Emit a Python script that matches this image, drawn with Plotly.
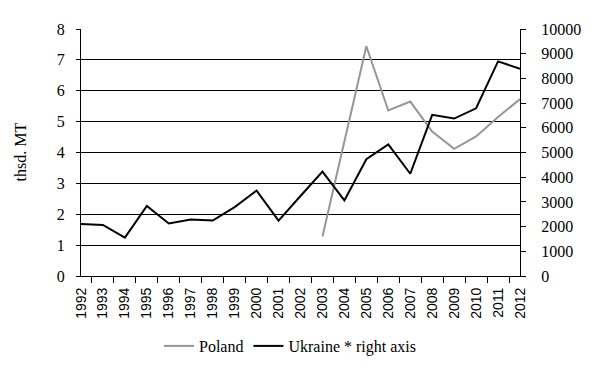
import plotly.graph_objects as go

years = [str(y) for y in range(1992, 2013)]
poland = [None]*11 + [1.28, 4.4, 7.44, 5.36, 5.65, 4.68, 4.12, 4.52, 5.15, 5.73]
ukraine = [2110, 2065, 1555, 2840, 2125, 2290, 2245, 2790, 3460, 2245, 3240,
           4225, 3060, 4725, 5325, 4140, 6525, 6375, 6790, 8690, 8390]

font = dict(family="Times New Roman", size=16, color="black")
xfont = dict(family="Liberation Sans", size=14, color="black")

W, H = 596, 364
fig = go.Figure()
fig.add_trace(go.Scatter(x=years, y=poland, name="Poland", mode="lines",
                         line=dict(color="#969696", width=2), connectgaps=False))
fig.add_trace(go.Scatter(x=years, y=ukraine, name="Ukraine * right axis", mode="lines",
                         line=dict(color="black", width=2), yaxis="y2"))

fig.update_layout(
    width=W, height=H,
    margin=dict(l=73, r=84, t=21, b=96, autoexpand=False),
    paper_bgcolor="white", plot_bgcolor="white",
    font=font,
    showlegend=True,
    legend=dict(orientation="h", x=(290 - 8) / W, xanchor="center", xref="container",
                y=1 - 338/H, yanchor="middle", yref="container",
                font=font, bgcolor="rgba(0,0,0,0)"),
    xaxis=dict(type="category", tickangle=-90, ticks="outside", tickson="boundaries",
               ticklen=6, tickcolor="black", showline=True, linecolor="black",
               linewidth=1, showgrid=False, tickfont=xfont, automargin=False,
               ticklabelstandoff=5),
    yaxis=dict(range=[0, 8], dtick=1, showgrid=True, gridcolor="black", gridwidth=1,
               showline=True, linecolor="black", ticks="outside", ticklen=4,
               tickcolor="black", tickfont=font, zeroline=False, automargin=False,
               ticklabelstandoff=8),
    yaxis2=dict(range=[0, 10000], dtick=1000, tickformat="d", overlaying="y", side="right",
                showgrid=False, showline=True, linecolor="black", ticks="outside",
                ticklen=5, tickcolor="black", tickfont=font, zeroline=False,
                automargin=False, ticklabelstandoff=12),
    annotations=[dict(text="thsd. MT", textangle=-90, xref="paper", yref="paper",
                      x=0, y=0.5, xshift=-61, xanchor="center", yanchor="middle",
                      showarrow=False, font=font)],
)

fig.write_html("out.html")
